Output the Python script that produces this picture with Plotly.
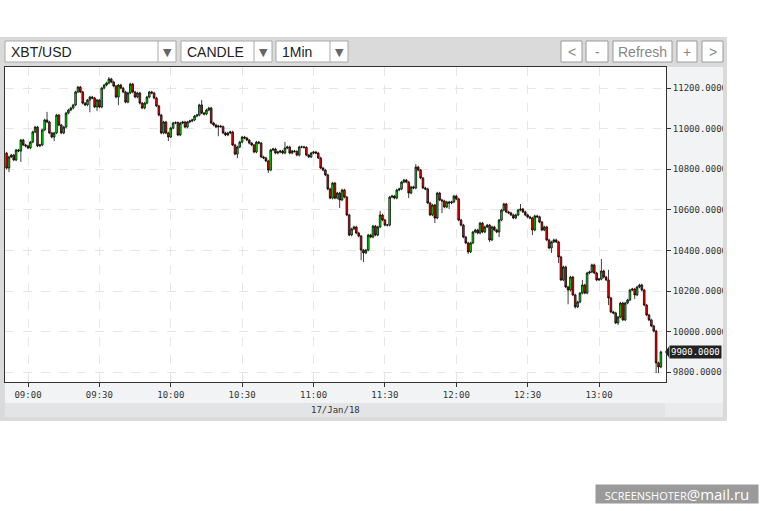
import pandas as pd
import plotly.graph_objects as go

# 1-minute closes, 17 Jan 2018 from 08:51
closes = [
    # 08:51 - 09:59
    10806, 10861, 10870, 10846, 10895, 10890, 10944, 10920, 10915, 10905,
    10934, 10984, 11008, 10915, 10920, 10994, 11043, 11033, 10979, 10959,
    10979, 11067, 11018, 10979, 11008, 11077, 11092, 11102, 11117, 11181,
    11205, 11181, 11126, 11117, 11141, 11156, 11151, 11107, 11141, 11107,
    11200, 11215, 11225, 11245, 11230, 11210, 11156, 11215, 11200, 11181,
    11131, 11176, 11220, 11181, 11156, 11176, 11126, 11102, 11126, 11156,
    11181, 11176, 11151, 11112, 11067, 10979, 11033, 10979, 10959,
    # 10:00 - 11:05
    11003, 11028, 11030, 10969, 11028, 11033, 11008, 11033, 11038, 11043,
    11062, 11067, 11117, 11077, 11072, 11092, 11102, 11028, 11018, 11008,
    11013, 11010, 10979, 10969, 10979, 10984, 10920, 10875, 10910, 10934,
    10959, 10954, 10944, 10929, 10920, 10885, 10934, 10929, 10861, 10856,
    10841, 10796, 10895, 10900, 10880, 10885, 10890, 10880, 10905, 10910,
    10880, 10890, 10888, 10870, 10910, 10910, 10908, 10870, 10861, 10880,
    10885, 10880, 10856, 10806, 10796, 10772,
    # 11:06 - 11:53
    10703, 10658, 10732, 10658, 10683, 10649, 10698, 10663, 10575, 10476,
    10506, 10516, 10486, 10471, 10402, 10388, 10402, 10476, 10466, 10520,
    10476, 10516, 10575, 10550, 10525, 10525, 10663, 10668, 10658, 10698,
    10703, 10737, 10747, 10737, 10683, 10713, 10708, 10811, 10796, 10757,
    10708, 10703, 10634, 10575, 10624, 10560, 10683, 10649,
    # 11:54 - 12:41
    10644, 10614, 10639, 10634, 10639, 10668, 10654, 10550, 10525, 10466,
    10437, 10393, 10437, 10491, 10501, 10486, 10535, 10491, 10516, 10525,
    10452, 10516, 10501, 10491, 10550, 10599, 10629, 10590, 10585, 10575,
    10560, 10575, 10599, 10604, 10590, 10575, 10565, 10560, 10501, 10570,
    10566, 10540, 10501, 10516, 10452, 10412, 10442, 10452,
    # 12:42 - 13:26
    10442, 10368, 10255, 10319, 10220, 10205, 10269, 10181, 10122, 10146,
    10190, 10230, 10190, 10289, 10294, 10329, 10289, 10255, 10259, 10299,
    10269, 10255, 10166, 10097, 10092, 10043, 10072, 10141, 10058, 10141,
    10156, 10205, 10210, 10181, 10220, 10230, 10205, 10131, 10082, 10058,
    10028, 10003, 9846, 9826, 9900,
]
first_open = 10880

# longer wicks that stand out (candle index: dollars beyond the body)
wick_up = {17: 40, 43: 10, 82: 25, 117: 30, 157: 20, 172: 15,
           216: 25, 242: 25, 250: 59, 253: 50}
wick_dn = {1: 20, 6: 54, 20: 20, 35: 60, 38: 20, 47: 40, 68: 20,
           89: 45, 97: 20, 110: 14, 140: 40, 149: 50, 150: 45, 169: 25,
           180: 25, 183: 60, 186: 30, 194: 10, 203: 10, 207: 25, 221: 25,
           229: 24, 232: 30, 236: 70, 239: 8, 253: 35, 257: 10, 264: 20,
           273: 50, 274: 30}
base_wick = 6

last_price = '9900.0000'
date_label = '17/Jan/18'
pair, chart_type, interval = 'XBT/USD', 'CANDLE', '1Min'
buttons = ['<', '-', 'Refresh', '+', '>']

times = pd.date_range('2018-01-17 08:51', periods=len(closes), freq='min')
opens = [first_open] + closes[:-1]
highs = [max(o, c) + wick_up.get(i, base_wick) for i, (o, c) in enumerate(zip(opens, closes))]
lows = [min(o, c) - wick_dn.get(i, base_wick) for i, (o, c) in enumerate(zip(opens, closes))]

W, H = 766, 511


def px(x):
    return x / W


def py(y):
    return 1 - y / H


fig = go.Figure(go.Candlestick(
    x=times, open=opens, high=highs, low=lows, close=closes,
    increasing=dict(fillcolor='#00ee00', line=dict(color='#000000', width=0.75)),
    decreasing=dict(fillcolor='#ff0000', line=dict(color='#000000', width=0.75)),
    whiskerwidth=0, showlegend=False, hoverinfo='skip',
))

tick_font = dict(family='DejaVu Sans Mono', size=9, color='#333333')

fig.update_xaxes(
    domain=[px(5), px(666)],
    range=['2018-01-17 08:50:20', '2018-01-17 13:28:09'],
    type='date', tickformat='%H:%M', dtick=30 * 60 * 1000, tick0='2018-01-17 09:00',
    ticks='outside', ticklen=4, tickcolor='#333333', tickfont=tick_font,
    showline=True, linecolor='#333333', linewidth=1, mirror=True,
    showgrid=True, gridcolor='#e6e6e6', griddash='dash', gridwidth=1,
    rangeslider=dict(visible=False), zeroline=False,
)
fig.update_yaxes(
    domain=[py(382), py(67)],
    range=[9752, 11304], side='right', dtick=200, tick0=0, tickformat='.4f',
    ticks='outside', ticklen=4, tickcolor='#333333', tickfont=tick_font,
    showline=True, linecolor='#333333', linewidth=1, mirror=True,
    showgrid=True, gridcolor='#e6e6e6', griddash='dash', gridwidth=1,
    zeroline=False,
)

shapes = []


def rect(x0, y0, x1, y1, fill, line=None, layer='below'):
    shapes.append(dict(type='rect', xref='paper', yref='paper',
                       x0=px(x0), x1=px(x1), y0=py(y1), y1=py(y0),
                       fillcolor=fill, layer=layer,
                       line=dict(color=line or fill, width=1 if line else 0)))


def vline(x, y0, y1, color):
    shapes.append(dict(type='line', xref='paper', yref='paper',
                       x0=px(x), x1=px(x), y0=py(y1), y1=py(y0),
                       line=dict(color=color, width=1), layer='below'))


def label(x, y, text, font, xanchor='center', **kw):
    annotations.append(dict(x=px(x), y=py(y), xref='paper', yref='paper', text=text,
                            showarrow=False, xanchor=xanchor, yanchor='middle',
                            font=font, **kw))


# frame and panels
rect(0, 37, 727, 421, '#dadada')
rect(5, 67, 666, 382, '#ffffff')
rect(666, 67, 723, 403, '#f2f3f5')
rect(5, 382, 666, 403, '#f2f3f5')
rect(5, 403, 665, 417, '#e3e4e6')
rect(665, 403, 723, 417, '#eaebed')

annotations = []

# dropdowns
drops = [(pair, 5, 176, 158), (chart_type, 181, 272, 254), (interval, 276, 348, 330)]
for text, x0, x1, sep in drops:
    rect(x0, 41, x1, 62, '#ffffff', '#a8a8a8')
    vline(sep, 41, 62, '#a8a8a8')
    label(x0 + 4, 51.5, text, dict(family='Liberation Sans', size=14, color='#222222'),
          xanchor='left')
    label((sep + x1) / 2, 52, '▼', dict(family='DejaVu Sans', size=11, color='#666666'))

# buttons
btn_pos = [(561, 582), (586, 608), (613, 672), (677, 697), (702, 723)]
for text, (x0, x1) in zip(buttons, btn_pos):
    rect(x0, 41, x1, 62, '#ffffff', '#9a9a9a')
    label((x0 + x1) / 2, 51.5, text, dict(family='Liberation Sans', size=14, color='#888888'))

# clip the right axis labels at the frame edge
rect(723, 67, 727, 421, '#dadada', layer='above')
rect(727, 37, 766, 421, '#ffffff', layer='above')

# last price tag
shapes.append(dict(type='path', xref='paper', yref='paper',
                   path='M {} {} L {} {} L {} {} Z'.format(px(665), py(352), px(669), py(346.5),
                                                            px(669), py(357.5)),
                   fillcolor='#222222', line=dict(width=0), layer='above'))
annotations.append(dict(x=px(669), y=float(last_price), xref='paper', yref='y',
                        text=last_price, showarrow=False, xanchor='left', yanchor='middle',
                        bgcolor='#222222', borderpad=1,
                        font=dict(family='DejaVu Sans Mono', size=9, color='#ffffff')))

label(335, 410, date_label, tick_font)

# watermark
label(677, 494, '<span style="font-size:11px">SCREENSHOTER</span>'
                '<span style="font-size:15px">@mail.ru</span>',
      dict(family='Open Sans', size=12, color='#ffffff'),
      bgcolor='#9a9a9a', width=160, height=16)

fig.update_layout(
    width=W, height=H, margin=dict(l=0, r=0, t=0, b=0),
    paper_bgcolor='#ffffff', plot_bgcolor='#ffffff',
    boxgap=0,
    shapes=shapes, annotations=annotations, hovermode=False,
)

fig.write_html('out.html', config={'displayModeBar': False},
               post_script="document.body.style.margin='0';")
